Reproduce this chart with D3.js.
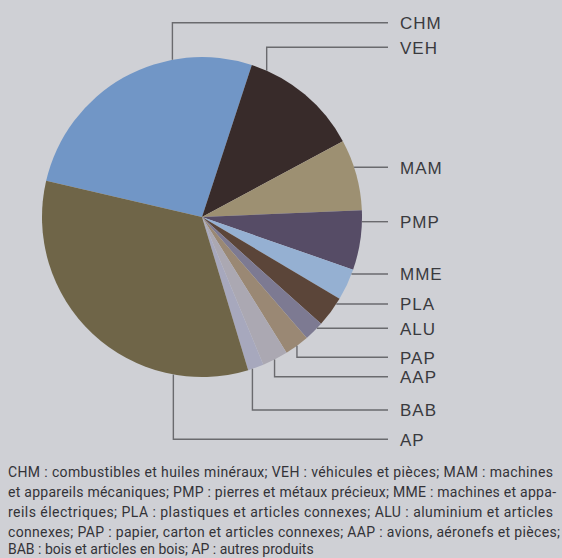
<!DOCTYPE html>
<html>
<head>
<meta charset="utf-8">
<script src="https://cdn.jsdelivr.net/npm/d3@7"></script>
<style>
  html, body { margin: 0; padding: 0; background: #cfd0d5; }
  svg { display: block; }
</style>
</head>
<body>
<svg id="chart" width="562" height="558"></svg>
<script>
// ---- data ----
const categories = ["CHM", "VEH", "MAM", "PMP", "MME", "PLA", "ALU", "PAP", "AAP", "BAB", "AP"];
const shares = [26.4, 12.1, 7.2, 6.0, 3.2, 3.1, 2.0, 2.5, 2.6, 1.6, 33.3];
const colors = ["#7196c6", "#382b2a", "#9d9072", "#564c66", "#95b0d2", "#5b4539", "#7d7a92", "#9a8874", "#aba8b2", "#a7a8bd", "#6f6548"];
const legendLines = [
  "CHM : combustibles et huiles minéraux; VEH : véhicules et pièces; MAM : machines",
  "et appareils mécaniques; PMP : pierres et métaux précieux; MME : machines et appa-",
  "reils électriques; PLA : plastiques et articles connexes; ALU : aluminium et articles",
  "connexes; PAP : papier, carton et articles connexes; AAP : avions, aéronefs et pièces;",
  "BAB : bois et articles en bois; AP : autres produits"
];

// ---- layout ----
const cx = 202, cy = 217, R = 160;
const startDeg = -76.9;
const labelRowY = [22.7, 47.3, 167.3, 221.7, 274, 304, 328.3, 357.3, 376.7, 410, 439.3];
const leaderKind = ["top", "top", "side", "side", "side", "side", "side", "bottom", "bottom", "bottom", "bottom"];
const leaderAt = [0.697, 0.131, 0, 0, 0, 0, 0, 0.5, 0.527, 0.724, 0.226];
const lineEndX = 388, labelX = 400;

const svg = d3.select("#chart");
const g = svg.append("g").attr("transform", `translate(${cx},${cy})`);

const start = startDeg * Math.PI / 180;
const pie = d3.pie().sort(null).value(d => d.v).startAngle(start).endAngle(start + 2 * Math.PI);
const arc = d3.arc().innerRadius(0).outerRadius(R);
const arcs = pie(categories.map((c, i) => ({ c, v: shares[i], i })));

g.selectAll("path.slice").data(arcs).join("path")
  .attr("class", "slice")
  .attr("d", arc)
  .attr("fill", d => colors[d.data.i]);

// ---- leaders ----
const lines = svg.append("g").attr("fill", "none").attr("stroke", "#6a6a6e").attr("stroke-width", 1.4);
arcs.forEach((a, i) => {
  const y = labelRowY[i];
  let pts;
  if (leaderKind[i] === "side") {
    const dy = y - cy;
    const ex = cx + Math.sqrt(Math.max(0, R * R - dy * dy));
    pts = [[ex, y], [lineEndX, y]];
  } else {
    const ang = a.startAngle + leaderAt[i] * (a.endAngle - a.startAngle);
    const ex = cx + R * Math.sin(ang);
    const ey = cy - R * Math.cos(ang);
    pts = [[ex, ey], [ex, y], [lineEndX, y]];
  }
  lines.append("path").attr("d", d3.line()(pts));
});

// ---- labels ----
svg.append("g").selectAll("text").data(categories).join("text")
  .attr("x", labelX)
  .attr("y", (d, i) => labelRowY[i] + 6.2)
  .attr("font-family", "'Liberation Sans', sans-serif")
  .attr("font-size", 17)
  .attr("letter-spacing", 1)
  .attr("fill", "#3a3a3e")
  .text(d => d);

// ---- legend text ----
const legendBase = [477, 497, 517, 537, 554];
const legendWidth = [545, 548, 545, 552, null];
svg.append("g").selectAll("text").data(legendLines).join("text")
  .attr("x", 8)
  .attr("y", (d, i) => legendBase[i])
  .attr("font-family", "Roboto, sans-serif")
  .attr("font-size", 14)
  .attr("fill", "#333338")
  .each(function(d, i) {
    if (legendWidth[i]) d3.select(this).attr("textLength", legendWidth[i]).attr("lengthAdjust", "spacing");
  })
  .text(d => d);
</script>
</body>
</html>
